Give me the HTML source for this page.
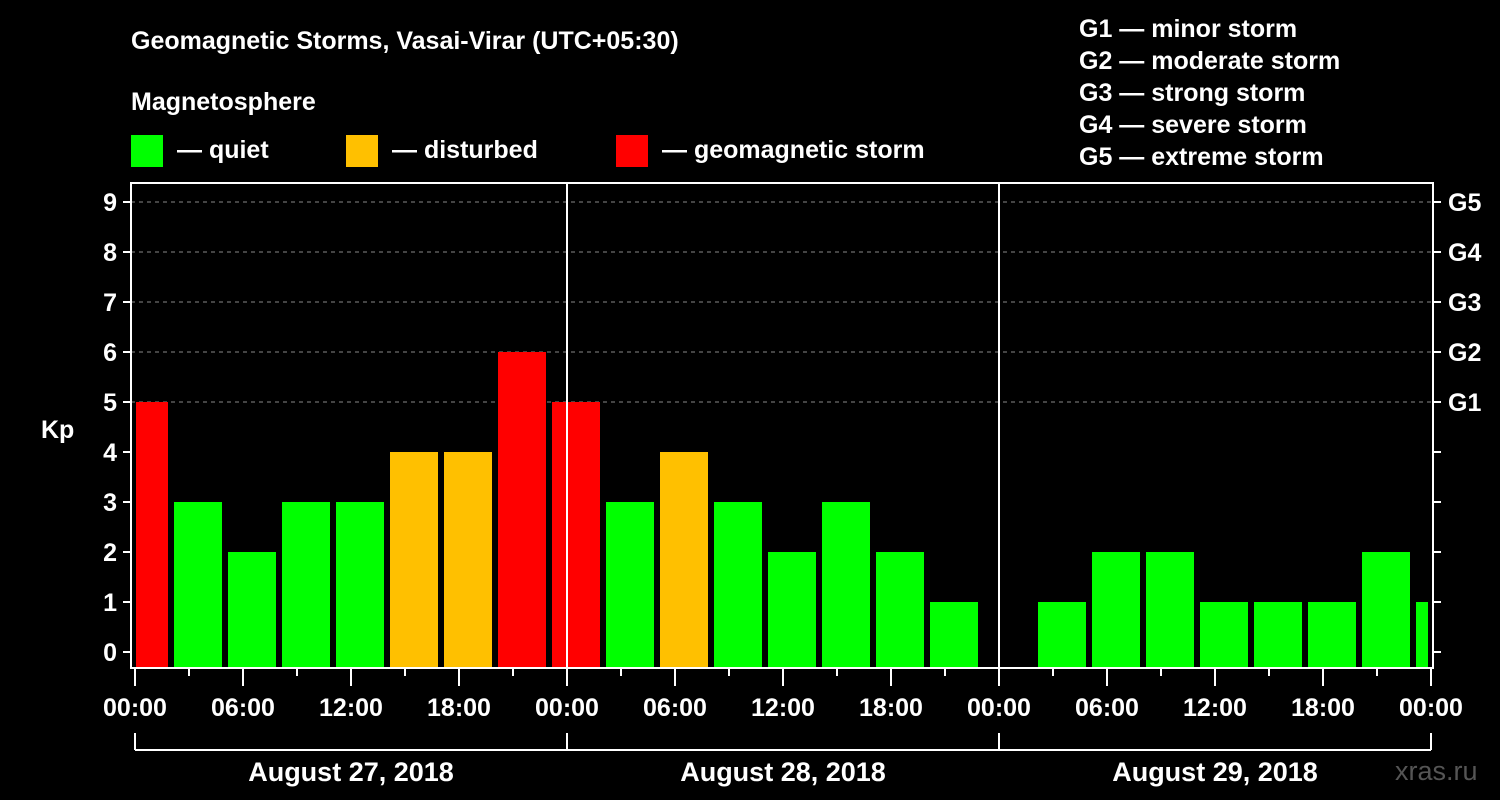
<!DOCTYPE html>
<html><head><meta charset="utf-8"><style>
html,body{margin:0;padding:0;background:#000;}
svg{display:block;font-family:"Liberation Sans",Arial,sans-serif;font-weight:bold;}
</style></head><body>
<svg id="chart" width="1500" height="800" viewBox="0 0 1500 800">
<rect width="1500" height="800" fill="#000"/>
<text x="131" y="49" fill="#fff" font-size="25">Geomagnetic Storms, Vasai-Virar (UTC+05:30)</text>
<text x="131" y="110" fill="#fff" font-size="25">Magnetosphere</text>
<g>
<rect x="131" y="135" width="32" height="32" fill="#00ff00"/>
<text x="177" y="158" fill="#fff" font-size="25">— quiet</text>
<rect x="346" y="135" width="32" height="32" fill="#ffc000"/>
<text x="392" y="158" fill="#fff" font-size="25">— disturbed</text>
<rect x="616" y="135" width="32" height="32" fill="#ff0000"/>
<text x="662" y="158" fill="#fff" font-size="25">— geomagnetic storm</text>
</g>
<g fill="#fff" font-size="25">
<text x="1079" y="37">G1 — minor storm</text>
<text x="1079" y="69">G2 — moderate storm</text>
<text x="1079" y="101">G3 — strong storm</text>
<text x="1079" y="133">G4 — severe storm</text>
<text x="1079" y="165">G5 — extreme storm</text>
</g>
<text x="41" y="438" fill="#fff" font-size="25">Kp</text>
<g id="grid"></g>
<g id="bars"></g>
<g id="axes"></g>
<text x="1395" y="780" fill="#555" font-size="27" font-weight="normal">xras.ru</text>
</svg>
<script>
const kpValues = [5,3,2,3,3,4,4,6,5,3,4,3,2,3,2,1,null,1,2,2,1,1,1,2,1];
const hourLabels = ["00:00","06:00","12:00","18:00","00:00","06:00","12:00","18:00","00:00","06:00","12:00","18:00","00:00"];
const dayLabels = ["August 27, 2018","August 28, 2018","August 29, 2018"];
const yTicks = [0,1,2,3,4,5,6,7,8,9];
const gLabels = ["G1","G2","G3","G4","G5"];

const NS="http://www.w3.org/2000/svg";
const X0=135, PXH=18, L=131, R=1433, T=183, B=668;
const xH = h => X0 + h*PXH;           // hours from start
const yK = v => 652 - 50*v;
function mk(tag, attrs, parent){const e=document.createElementNS(NS,tag);for(const k in attrs)e.setAttribute(k,attrs[k]);parent.appendChild(e);return e;}
const grid=document.getElementById('grid'), bars=document.getElementById('bars'), axes=document.getElementById('axes');
function color(v){return v>=5?'#ff0000':(v>=4?'#ffc000':'#00ff00');}
// bars: UTC 3h bins, local offset 5.5h -> first bin start at -1h... approximated via slot start -0.833h
kpValues.forEach((v,i)=>{
  if(v===null) return;
  const s = xH(-0.8333 + 3*i), e = s + 48;
  const x1=Math.max(s,136), x2=Math.min(e,1428);
  if(x2<=x1) return;
  const r=mk('rect',{x:x1,y:yK(v),width:x2-x1,height:B-yK(v),fill:color(v)},bars);
  
  
});
// grid for 5..9
yTicks.filter(v=>v>=5).forEach(v=>{
  const l=mk('line',{x1:L,x2:R,y1:yK(v),y2:yK(v),stroke:'#888','stroke-dasharray':'4 4','stroke-width':1},grid);
  
  
});
// frame
const fr=mk('rect',{x:L,y:T,width:R-L,height:B-T,fill:'none',stroke:'#fff','stroke-width':2},axes);


[1,2].forEach(d=>{const l=mk('line',{x1:xH(24*d),x2:xH(24*d),y1:T,y2:B,stroke:'#fff','stroke-width':2},axes);
  
  });
// y ticks
yTicks.forEach(v=>{
  mk('line',{x1:L-8,x2:L,y1:yK(v),y2:yK(v),stroke:'#fff','stroke-width':2},axes);
  mk('line',{x1:R,x2:R+8,y1:yK(v),y2:yK(v),stroke:'#fff','stroke-width':2},axes);
  const t=mk('text',{x:L-14,y:yK(v)+9,fill:'#fff','font-size':25,'text-anchor':'end'},axes);
  t.textContent=v;
  
  
});
gLabels.forEach((g,i)=>{
  const t=mk('text',{x:1448,y:yK(5+i)+9,fill:'#fff','font-size':25},axes);
  t.textContent=g;
  
  
});
// x ticks
for(let h=0;h<=72;h+=3){
  const major=h%6===0;
  mk('line',{x1:xH(h),x2:xH(h),y1:B,y2:B+(major?18:8),stroke:'#fff','stroke-width':2},axes);
}
hourLabels.forEach((s,i)=>{
  const t=mk('text',{x:xH(6*i),y:716,fill:'#fff','font-size':25,'text-anchor':'middle'},axes);
  t.textContent=s;
  
  
});
// day bracket
mk('line',{x1:xH(0),x2:xH(72),y1:750,y2:750,stroke:'#fff','stroke-width':2},axes);
for(let d=0;d<=3;d++) mk('line',{x1:xH(24*d),x2:xH(24*d),y1:733,y2:750,stroke:'#fff','stroke-width':2},axes);
dayLabels.forEach((s,i)=>{
  const t=mk('text',{x:xH(24*i+12),y:781,fill:'#fff','font-size':27,'text-anchor':'middle'},axes);
  t.textContent=s;
  
  
});
</script>
</body></html>
